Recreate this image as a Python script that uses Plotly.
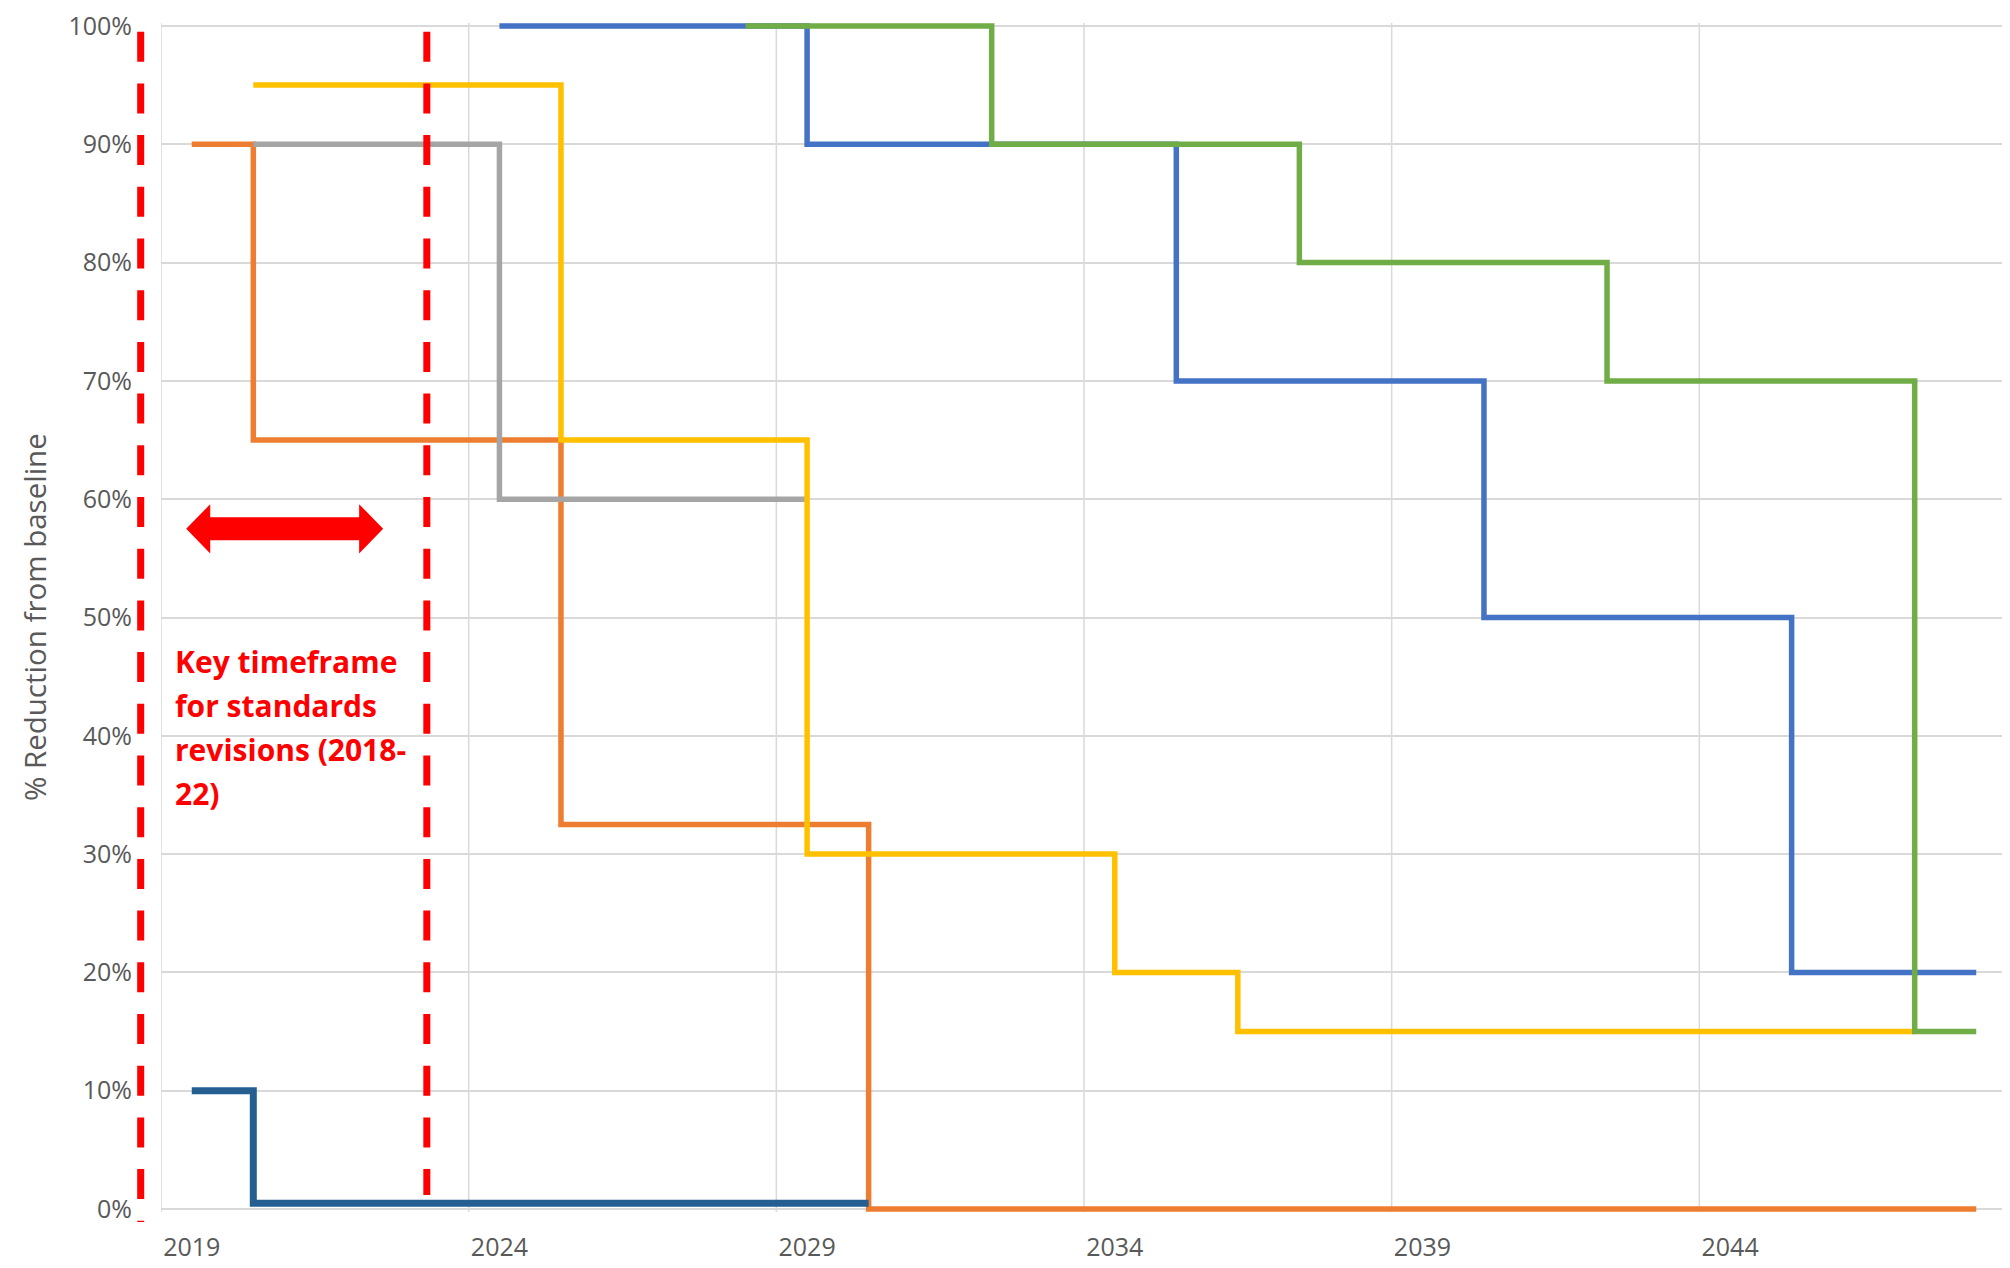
import plotly.graph_objects as go

# ---------------- data ----------------
x_start, x_end = 2018.5, 2048.5
tick_years = [2019, 2024, 2029, 2034, 2039, 2044]
tick_labels = ["2019", "2024", "2029", "2034", "2039", "2044"]
y_ticks = [0, 10, 20, 30, 40, 50, 60, 70, 80, 90, 100]
y_labels = [f"{v}%" for v in y_ticks]

blue_years = [2024, 2029, 2035, 2040, 2045, 2048]
blue_vals = [100, 90, 70, 50, 20, 20]

orange_years = [2019, 2020, 2025, 2030, 2048]
orange_vals = [90, 65, 32.5, 0, 0]

gray_years = [2020, 2024, 2029]
gray_vals = [90, 60, 60]

yellow_years = [2020, 2025, 2029, 2034, 2036, 2047]
yellow_vals = [95, 65, 30, 20, 15, 15]

green_years = [2028, 2032, 2037, 2042, 2047, 2048]
green_vals = [100, 90, 80, 70, 15, 15]

darkblue_years = [2019, 2020, 2030]
darkblue_vals = [10, 0.5, 0.5]

# key timeframe markers (years) and annotation
dashed_years = [2018.17, 2022.82]
dashed_top = [0.9927, 0.9927]
dashed_bottom = [-0.0084, 0.0143]
arrow_left, arrow_right, arrow_y = 2018.91, 2022.11, 57.5
key_text_lines = ["Key timeframe", "for standards", "revisions (2018-", "22)"]
key_text_x, key_text_y = 2018.69, 46.25

# ---------------- figure ----------------
fig = go.Figure()

series = [
    (blue_years, blue_vals, "#4472C4", 5.5),
    (orange_years, orange_vals, "#ED7D31", 5.5),
    (gray_years, gray_vals, "#A5A5A5", 5.5),
    (yellow_years, yellow_vals, "#FFC000", 5.5),
    (green_years, green_vals, "#70AD47", 5.5),
    (darkblue_years, darkblue_vals, "#255E91", 7),
]
for xs, ys, col, w in series:
    fig.add_trace(go.Scatter(x=xs, y=ys, mode="lines",
                             line=dict(color=col, width=w, shape="hv"),
                             showlegend=False, hoverinfo="skip"))

shapes = []
# vertical gridlines at category-band boundaries
g = x_start
while g <= x_end + 1e-9:
    shapes.append(dict(type="line", xref="x", yref="paper", x0=g, x1=g, y0=0, y1=1,
                       line=dict(color="#D9D9D9", width=1.5), layer="below"))
    g += 5

span = x_end - x_start
for yr, yt, yb in zip(dashed_years, dashed_top, dashed_bottom):
    px = (yr - x_start) / span
    shapes.append(dict(type="line", xref="paper", yref="paper", x0=px, x1=px, y0=yt, y1=yb,
                       line=dict(color="#FF0000", width=7, dash="30px,21.7px"), layer="above"))

# double-headed arrow
h = 0.39   # head length (years)
H = 2.08   # head half-height (%)
s = 0.97   # shaft half-height (%)
xl, xr, yc = arrow_left, arrow_right, arrow_y
path = (f"M {xl},{yc} L {xl+h},{yc+H} L {xl+h},{yc+s} L {xr-h},{yc+s} L {xr-h},{yc+H} "
        f"L {xr},{yc} L {xr-h},{yc-H} L {xr-h},{yc-s} L {xl+h},{yc-s} L {xl+h},{yc-H} Z")
shapes.append(dict(type="path", xref="x", yref="y", path=path,
                   fillcolor="#FF0000", line=dict(color="#FF0000", width=0), layer="above"))

annotations = []
for i, line in enumerate(key_text_lines):
    annotations.append(dict(x=key_text_x, y=key_text_y, xref="x", yref="y",
                            text=f"<b>{line}</b>", showarrow=False,
                            xanchor="left", yanchor="middle", yshift=-43.8 * i,
                            font=dict(family="Open Sans", size=30, color="#FF0000")))

annotations.append(dict(x=0, y=0.5, xref="paper", yref="paper", xshift=-126.4,
                        text="% Reduction from baseline", textangle=-90, showarrow=False,
                        xanchor="center", yanchor="middle",
                        font=dict(family="Open Sans", size=29.5, color="#595959")))

# page body has an 8px margin, so the figure is offset accordingly
fig.update_layout(
    width=2002, height=1260,
    margin=dict(l=153, r=3, t=15, b=56, autoexpand=False),
    paper_bgcolor="white", plot_bgcolor="white",
    shapes=shapes, annotations=annotations,
    showlegend=False,
    xaxis=dict(range=[x_start, x_end], tickvals=tick_years, ticktext=tick_labels,
               showgrid=False, zeroline=False, showline=False, ticks="",
               automargin=False,
               ticklabelstandoff=18, ticklabeloverflow="allow",
               tickfont=dict(family="Open Sans", size=25, color="#595959")),
    yaxis=dict(range=[-0.25, 100.25], tickvals=y_ticks, ticktext=y_labels,
               showgrid=True, gridcolor="#D9D9D9", gridwidth=1.5,
               zeroline=False, showline=False, ticks="",
               automargin=False,
               ticklabelstandoff=28, ticklabeloverflow="allow",
               tickfont=dict(family="Open Sans", size=25, color="#595959")),
)

fig.write_html("out.html")
